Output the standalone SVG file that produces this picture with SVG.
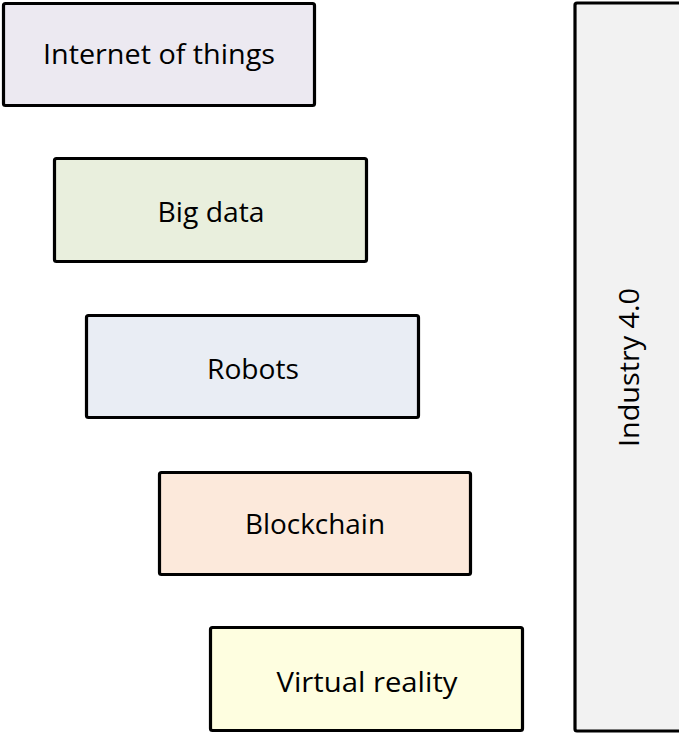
<svg xmlns="http://www.w3.org/2000/svg" width="679" height="735" viewBox="0 0 679 735">
  <style>
    .box { stroke: #000; stroke-width: 3.2; stroke-linejoin: round; }
    .lbl { font-family: "Open Sans", "Liberation Sans", sans-serif; font-size: 27px; fill: #000; text-anchor: middle; }
  </style>
  <rect width="679" height="735" fill="#ffffff"/>

  <g id="industry">
    <rect class="box" x="575" y="3" width="110" height="728" rx="2" fill="#f2f2f2" stroke-width="4"/>
    <text class="lbl" x="639" y="367.5" transform="rotate(-90 639 367.5)" textLength="159" lengthAdjust="spacingAndGlyphs">Industry 4.0</text>
  </g>

  <g id="iot">
    <rect class="box" x="3.5" y="3.5" width="311" height="102" rx="2" fill="#ece9f1"/>
    <text class="lbl" x="159" y="63.5" textLength="232" lengthAdjust="spacingAndGlyphs">Internet of things</text>
  </g>

  <g id="bigdata">
    <rect class="box" x="54.5" y="158.5" width="312" height="103" rx="2" fill="#e9efdd"/>
    <text class="lbl" x="211" y="221.5" textLength="107" lengthAdjust="spacingAndGlyphs">Big data</text>
  </g>

  <g id="robots">
    <rect class="box" x="86.5" y="315.5" width="332" height="102" rx="2" fill="#e9edf4"/>
    <text class="lbl" x="253" y="378.5" textLength="92" lengthAdjust="spacingAndGlyphs">Robots</text>
  </g>

  <g id="blockchain">
    <rect class="box" x="159.5" y="472.5" width="311" height="102" rx="2" fill="#fce9db"/>
    <text class="lbl" x="315" y="533.5" textLength="140" lengthAdjust="spacingAndGlyphs">Blockchain</text>
  </g>

  <g id="vr">
    <rect class="box" x="210.5" y="627.5" width="312" height="103" rx="2" fill="#fefee0"/>
    <text class="lbl" x="367" y="691.5" textLength="181" lengthAdjust="spacingAndGlyphs">Virtual reality</text>
  </g>

  <g id="connectors"></g>
</svg>
